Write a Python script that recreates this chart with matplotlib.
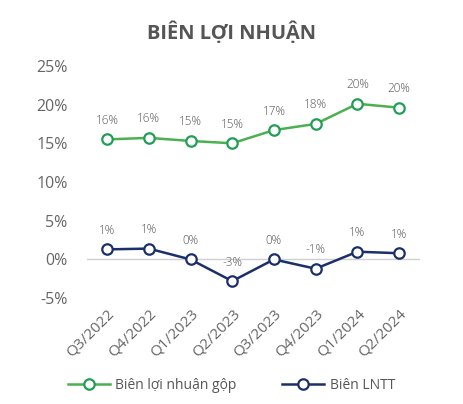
import matplotlib.pyplot as plt

quarters = ['Q3/2022', 'Q4/2022', 'Q1/2023', 'Q2/2023', 'Q3/2023', 'Q4/2023', 'Q1/2024', 'Q2/2024']
gross_margin = [15.5, 15.7, 15.3, 15.0, 16.7, 17.5, 20.1, 19.6]
gross_labels = ['16%', '16%', '15%', '15%', '17%', '18%', '20%', '20%']
pbt_margin = [1.3, 1.4, 0.0, -2.8, 0.0, -1.2, 1.0, 0.8]
pbt_labels = ['1%', '1%', '0%', '-3%', '0%', '-1%', '1%', '1%']
yticks = [-5, 0, 5, 10, 15, 20, 25]

plt.rcParams['font.family'] = ['Open Sans', 'DejaVu Sans']

fig = plt.figure(figsize=(4.63, 4.04), dpi=100)
ax = fig.add_axes([0.188, 0.262, 0.719, 0.575])

x = list(range(len(quarters)))
green = '#4cb050'
navy = '#1b2f6b'

ax.axhline(0, color='#d0d0d0', lw=1, zorder=1)
ax.plot(x, gross_margin, color=green, lw=1.8, marker='o', ms=7.5,
        mfc='white', mec='#1f9e55', mew=1.6, label='Biên lợi nhuận gộp', zorder=3)
ax.plot(x, pbt_margin, color=navy, lw=1.8, marker='o', ms=7.5,
        mfc='white', mec=navy, mew=1.6, label='Biên LNTT', zorder=3)

for i in x:
    ax.annotate(gross_labels[i], (i, gross_margin[i]), xytext=(0, 9), textcoords='offset points',
                ha='center', va='bottom', fontsize=8.5, fontweight='light', color='#555555')
    ax.annotate(pbt_labels[i], (i, pbt_margin[i]), xytext=(0, 9), textcoords='offset points',
                ha='center', va='bottom', fontsize=8.5, fontweight='light', color='#555555')

ax.set_xlim(-0.48, 7.5)
ax.set_ylim(-5, 25)
ax.set_yticks(yticks)
ax.set_yticklabels([f'{v}%' for v in yticks], fontsize=11.5, color='#666666')
ax.set_xticks(x)
ax.set_xticklabels(quarters, rotation=45, ha='right', rotation_mode='anchor',
                   fontsize=11, color='#666666')
ax.tick_params(length=0, pad=14)
ax.tick_params(axis='x', pad=6)
for s in ax.spines.values():
    s.set_visible(False)

fig.text(0.5, 0.92, 'BIÊN LỢI NHUẬN', ha='center', va='center',
         fontsize=14.5, fontweight='bold', color='#555555')

fig.legend(loc='center', bbox_to_anchor=(0.5, 0.045), ncol=2, frameon=False,
           fontsize=10, labelcolor='#555555', handlelength=3, columnspacing=3.3,
           handletextpad=0.4)

fig.savefig('out.png', dpi=100)
